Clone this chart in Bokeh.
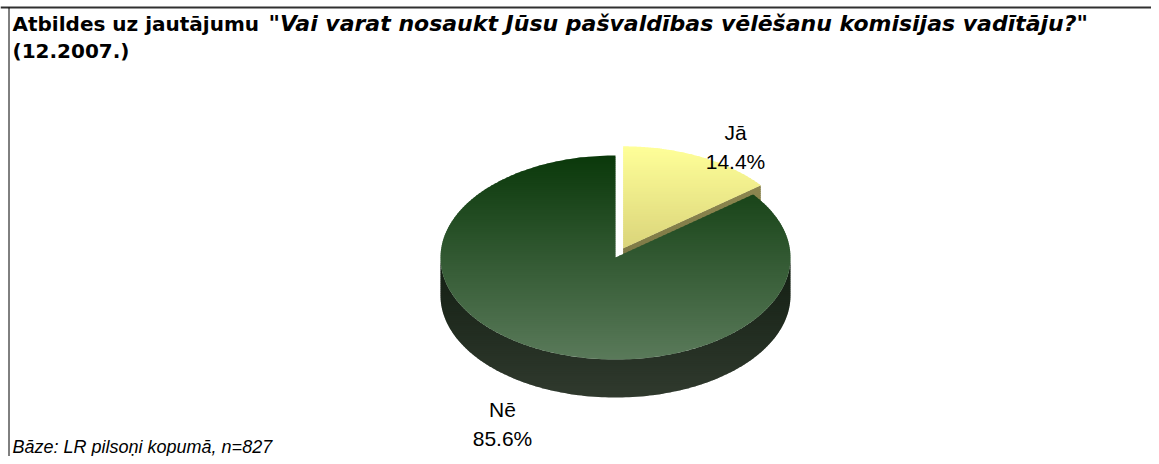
import math
from bokeh.plotting import figure
from bokeh.models import Range1d
from bokeh.core.properties import value
from bokeh.embed import file_html
from bokeh.resources import INLINE

# ---------------- data ----------------
categories = ["Jā", "Nē"]
shares = [14.4, 85.6]
value_labels = ["14.4%", "85.6%"]
title_plain = "Atbildes uz jautājumu "
title_italic = "\"Vai varat nosaukt Jūsu pašvaldības vēlēšanu komisijas vadītāju?\""
title_line2 = "(12.2007.)"
footer = "Bāze: LR pilsoņi kopumā, n=827"

# ---------------- style / layout ----------------
W, H = 1151, 456
CX, CY = 615.0, 257.0       # pie centre
RX, RY = 175.0, 102.0       # ellipse radii
DEPTH = 38.0
EXPLODE = [0.1, 0.0]        # fraction of radius
FONT = "Liberation Sans"
TITLE_FONT = "DejaVu Sans"

top_colors = [((255, 255, 153), (218, 212, 122)), ((10, 56, 10), (90, 122, 90))]
side_colors = [((140, 134, 80), (120, 116, 66)), ((18, 30, 18), (48, 58, 46))]
label_pos = [(735, 132, 161), (502, 409, 438)]

p = figure(width=W, height=H, x_range=Range1d(0, W), y_range=Range1d(H, 0),
           output_backend="svg", toolbar_location=None, x_axis_type=None, y_axis_type=None,
           min_border=0, outline_line_color=None, background_fill_color="white",
           border_fill_color="white")
p.grid.visible = False


def hexc(c):
    return "#%02x%02x%02x" % tuple(int(round(v)) for v in c)


def lerp(c0, c1, t):
    t = min(max(t, 0.0), 1.0)
    return tuple(a + (b - a) * t for a, b in zip(c0, c1))


def clip_half(pts, keep, yc):
    out = []
    n = len(pts)
    for i in range(n):
        cur, prev = pts[i], pts[i - 1]
        kc, kp = keep(cur), keep(prev)
        if kc != kp:
            t = (yc - prev[1]) / (cur[1] - prev[1])
            out.append((prev[0] + t * (cur[0] - prev[0]), yc))
        if kc:
            out.append(cur)
    return out


def clip_band(pts, y0, y1):
    pts = clip_half(pts, lambda q: q[1] >= y0, y0)
    if pts:
        pts = clip_half(pts, lambda q: q[1] <= y1, y1)
    return pts


def gradient_fill(pts, c0, c1, step=2.0):
    ys = [q[1] for q in pts]
    ymin, ymax = min(ys), max(ys)
    n = max(1, int(math.ceil((ymax - ymin) / step)))
    xs_l, ys_l, cols = [], [], []
    for i in range(n):
        y0 = ymin + i * step
        y1 = min(ymax, y0 + step + 0.8)
        part = clip_band(pts, y0, y1)
        if len(part) < 3:
            continue
        xs_l.append([q[0] for q in part])
        ys_l.append([q[1] for q in part])
        cols.append(hexc(lerp(c0, c1, (y0 + step / 2 - ymin) / max(ymax - ymin, 1))))
    p.patches(xs=xs_l, ys=ys_l, fill_color=cols, line_color=None)


def pt(theta_deg, ox=0.0, oy=0.0, dz=0.0):
    t = math.radians(theta_deg)
    return (CX + ox + RX * math.sin(t), CY + oy - RY * math.cos(t) + dz)


total = sum(shares)
starts, ends = [], []
acc = 0.0
for s in shares:
    starts.append(acc / total * 360.0)
    acc += s
    ends.append(acc / total * 360.0)

offsets = []
for i in range(len(shares)):
    mid = math.radians((starts[i] + ends[i]) / 2)
    offsets.append((EXPLODE[i] * RX * math.sin(mid), -EXPLODE[i] * RY * math.cos(mid)))

order = [0, 1]
for i in order:
    a0, a1 = starts[i], ends[i]
    ox, oy = offsets[i]
    if 0 < a1 % 360 < 180:
        apex = (CX + ox, CY + oy)
        tip = pt(a1, ox, oy)
        face = [apex, tip, (tip[0], tip[1] + DEPTH), (apex[0], apex[1] + DEPTH)]
        gradient_fill(face, side_colors[i][0], side_colors[i][1])
    r0, r1 = max(a0, 90.0), min(a1, 270.0)
    if r1 > r0:
        n = 160
        top = [pt(r0 + (r1 - r0) * k / n, ox, oy) for k in range(n + 1)]
        bot = [(x, y + DEPTH) for x, y in reversed(top)]
        gradient_fill(top + bot, side_colors[i][0], side_colors[i][1])
    n = 240
    arc = [pt(a0 + (a1 - a0) * k / n, ox, oy) for k in range(n + 1)]
    gradient_fill([(CX + ox, CY + oy)] + arc, top_colors[i][0], top_colors[i][1])

# slice labels
for i in range(len(categories)):
    lx, ly1, ly2 = label_pos[i]
    p.text(x=[lx], y=[ly1], text=[categories[i]], text_font=value(FONT), text_font_size="21px",
           text_align="center", text_baseline="middle", text_color="black")
    p.text(x=[lx], y=[ly2], text=[value_labels[i]], text_font=value(FONT), text_font_size="21px",
           text_align="center", text_baseline="middle", text_color="black")

# title
p.text(x=[12], y=[23], text=[title_plain], text_font=value(TITLE_FONT), text_font_size="20px",
       text_font_style="bold", text_align="left", text_baseline="middle", text_color="black")
p.text(x=[268], y=[23], text=[title_italic], text_font=value(TITLE_FONT), text_font_size="22px",
       text_font_style="bold italic", text_align="left", text_baseline="middle", text_color="black")
p.text(x=[12], y=[50], text=[title_line2], text_font=value(TITLE_FONT), text_font_size="20px",
       text_font_style="bold", text_align="left", text_baseline="middle", text_color="black")

# footer
p.text(x=[12], y=[446], text=[footer], text_font=value(FONT), text_font_size="18px",
       text_font_style="italic", text_align="left", text_baseline="middle", text_color="black")

# frame (top and left edges only, as in the cropped original)
p.line(x=[0, W], y=[7, 7], line_color="#303030", line_width=2)
p.line(x=[8.5, 8.5], y=[7, H], line_color="black", line_width=1)

open("out.html", "w").write(file_html(p, INLINE))
